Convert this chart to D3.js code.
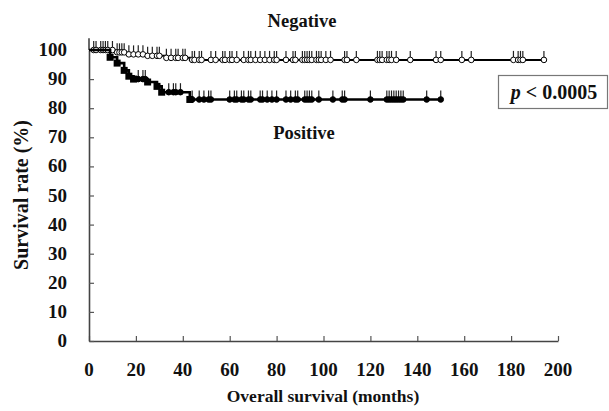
<!DOCTYPE html>
<html>
<head>
<meta charset="utf-8">
<script src="https://cdn.jsdelivr.net/npm/d3@7"></script>
<style>
	body { margin: 0; background: #fff; }
	text { font-family: "Liberation Serif", "Times New Roman", serif; font-weight: bold; fill: #111; }
</style>
</head>
<body>
<svg width="609" height="411"></svg>
<script>
// step points of each survival curve: [months, survival %]
var negSteps = [[0,100],[11,99.2],[16,98.5],[24,98],[33,97.3],[43,96.6]],
	posSteps = [[0,100],[9,97.5],[12,95.5],[15,93],[17,91],[19,90],[25,89],[29,87.5],[31,85.5],[43,83]];
var negEnd = 194,
	posEnd = 150;
// censored times (months)
var negCensor = [2,3,5,6,7,8,10,12,13,14,15,17,19,21,23,25,27,29,30,33,35,37,38,40,41,44,45,47,48,52,54,57,58,60,61,63,66,68,69,71,73,75,77,79,80,84,87,88,91,92,93,94,95,97,98,99,101,103,109,110,114,123,124,125,127,128,129,131,137,148,150,159,163,181,183,184,185,194];
var posCensor = [21,23,24,34,36,37,39,44,47,49,51,52,60,62,63,65,66,68,69,73,74,76,78,80,84,86,88,89,92,93,94,95,98,104,108,109,120,127,128,129,130,131,132,133,134,144,150];
var xTicks = [0,20,40,60,80,100,120,140,160,180,200],
	yTicks = [0,10,20,30,40,50,60,70,80,90,100];

var svg = d3.select("svg");

var x = d3.scaleLinear().domain([0,200]).range([89,558]),
	y = d3.scaleLinear().domain([0,100]).range([341,50]);

// axes, ticks pointing inward
svg.append("g")
	.attr("transform", "translate(0," + y(0) + ")")
	.call(d3.axisBottom(x).tickValues(xTicks).tickSize(-5).tickSizeOuter(0).tickFormat(""));
svg.append("g")
	.attr("transform", "translate(" + x(0) + ",0)")
	.call(d3.axisLeft(y).tickValues(yTicks).tickSize(-5).tickSizeOuter(0).tickFormat(""));
svg.selectAll(".domain").attr("stroke", "#444").attr("stroke-width", 1.6);
svg.selectAll(".tick line").attr("stroke", "#555").attr("stroke-width", 1.2);
// y axis line extends a bit above 100
svg.append("line")
	.attr("x1", x(0)).attr("x2", x(0))
	.attr("y1", y(100)).attr("y2", y(104))
	.attr("stroke", "#444").attr("stroke-width", 1.6);

svg.selectAll(".xlab").data(xTicks).enter().append("text")
	.attr("x", function(d){ return x(d); })
	.attr("y", 376)
	.attr("text-anchor", "middle")
	.attr("font-size", 19)
	.text(function(d){ return d; });
svg.selectAll(".ylab").data(yTicks).enter().append("text")
	.attr("x", 67)
	.attr("y", function(d){ return y(d) + 6; })
	.attr("text-anchor", "end")
	.attr("font-size", 19)
	.text(function(d){ return d; });

svg.append("text")
	.attr("x", 323).attr("y", 402)
	.attr("text-anchor", "middle")
	.attr("font-size", 17.5)
	.text("Overall survival (months)");
svg.append("text")
	.attr("transform", "translate(28,195) rotate(-90)")
	.attr("text-anchor", "middle")
	.attr("font-size", 20)
	.text("Survival rate (%)");

function survAt(steps, t){
	var i = d3.bisectRight(steps.map(function(d){ return d[0]; }), t) - 1;
	return steps[Math.max(i,0)][1];
}

var line = d3.line()
	.curve(d3.curveStepAfter)
	.x(function(d){ return x(d[0]); })
	.y(function(d){ return y(d[1]); });

function drawCurve(steps, end, censor, filled){
	var pts = steps.concat([[end, steps[steps.length-1][1]]]);
	var g = svg.append("g");
	g.append("path")
		.attr("d", line(pts))
		.attr("fill", "none")
		.attr("stroke", "#000")
		.attr("stroke-width", filled ? 2.6 : 2);
	var marks = g.selectAll("g.cens").data(censor).enter().append("g")
		.attr("transform", function(d){ return "translate(" + x(d) + "," + y(survAt(steps, d)) + ")"; });
	marks.append("line")
		.attr("x1", 0).attr("x2", 0)
		.attr("y1", 0).attr("y2", -9)
		.attr("stroke", "#222").attr("stroke-width", 1.2);
	marks.append("circle")
		.attr("r", 2.8)
		.attr("fill", filled ? "#000" : "#fff")
		.attr("stroke", "#000")
		.attr("stroke-width", 1);
	// event points on drops
	if(filled){
		g.selectAll("rect.ev").data(steps.slice(1)).enter().append("rect")
			.attr("x", function(d){ return x(d[0]) - 3.5; })
			.attr("y", function(d){ return y(d[1]) - 3.5; })
			.attr("width", 7).attr("height", 7)
			.attr("fill", "#000");
	}
}

drawCurve(negSteps, negEnd, negCensor, false);
drawCurve(posSteps, posEnd, posCensor, true);

svg.append("text")
	.attr("x", 302).attr("y", 27)
	.attr("text-anchor", "middle")
	.attr("font-size", 18.5)
	.text("Negative");
svg.append("text")
	.attr("x", 304).attr("y", 139)
	.attr("text-anchor", "middle")
	.attr("font-size", 18.5)
	.text("Positive");

svg.append("rect")
	.attr("x", 498.5).attr("y", 75.5)
	.attr("width", 109).attr("height", 33)
	.attr("fill", "#fff")
	.attr("stroke", "#777")
	.attr("stroke-width", 1.2);
var pt = svg.append("text")
	.attr("x", 554).attr("y", 99)
	.attr("text-anchor", "middle")
	.attr("font-size", 20);
pt.append("tspan").attr("font-style", "italic").text("p");
pt.append("tspan").text(" < 0.0005");
</script>
</body>
</html>
